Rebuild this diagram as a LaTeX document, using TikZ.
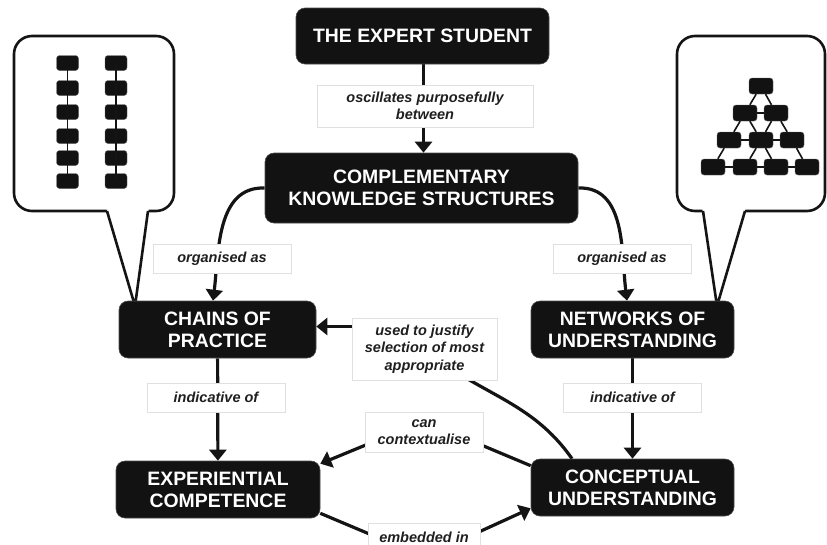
\documentclass[tikz,border=0pt]{standalone}
\usepackage{fontspec}
\setmainfont{Liberation Sans}
\usetikzlibrary{arrows.meta,backgrounds}

\tikzset{
  concept/.style={draw=black!70, line width=0.6pt, fill=black!93, text=white,
    rounded corners=9pt, align=center, inner sep=0pt,
    font=\bfseries\fontsize{19.4}{22}\selectfont},
  linkname/.style={draw=black!12, line width=0.8pt, fill=white, text=black!88,
    align=center, inner sep=0pt,
    font=\bfseries\itshape\fontsize{14.5}{17.5}\selectfont},
  link/.style={line width=3.2pt, draw=black!92},
  arr/.style={link, -{Triangle[width=17pt,length=11pt]}},
  callout/.style={line width=2.6pt, draw=black!92, fill=white},
  chip/.style={draw=black!60, line width=0.4pt, fill=black!93,
    rounded corners=3pt, inner sep=0pt},
  wire/.style={line width=1.6pt, draw=black!92},
}

\begin{document}
\begin{tikzpicture}[x=1pt,y=-1pt]
  \useasboundingbox (0,0) rectangle (827,544);

  % callouts
  \draw[callout, rounded corners=18pt] (14,36) rectangle (174,211);
  \fill[white] (106,207) -- (149,207) -- (135,304) -- cycle;
  \draw[callout, fill=none, line join=round] (107,211) -- (135,306) -- (148,211);

  \draw[callout, rounded corners=18pt] (677,36) rectangle (825,211);
  \fill[white] (702,207) -- (746,207) -- (717,304) -- cycle;
  \draw[callout, fill=none, line join=round] (703,211) -- (717,306) -- (745,211);

  % chains icon
  \foreach \i/\y in {1/63,2/88,3/112,4/136,5/158,6/181} {
    \node[chip, minimum width=22pt, minimum height=15pt] (a\i) at (67.5,\y) {};
    \node[chip, minimum width=22pt, minimum height=15pt] (b\i) at (116,\y) {};
  }
  \draw[wire] (a1.center) -- (a6.center);
  \draw[wire] (b1.center) -- (b6.center);

  % network icon
  \foreach \n/\x/\y in {n1/761/86, n21/745/113, n22/776/113,
      n31/729/140, n32/761/140, n33/792/140,
      n41/713/167, n42/745/167, n43/776/167, n44/807/167}
    \node[chip, minimum width=24pt, minimum height=16pt] (\n) at (\x,\y) {};
  \foreach \a/\b in {n1/n21, n1/n22, n21/n22, n21/n31, n21/n32, n22/n32,
      n22/n33, n31/n32, n32/n33, n31/n41, n32/n42, n32/n43, n33/n44,
      n41/n42, n42/n43, n43/n44}
    \draw[wire] (\a) -- (\b);

  % concepts
  \node[concept, minimum width=253pt, minimum height=56pt] (expert) at (422.5,36) {THE EXPERT STUDENT};
  \node[concept, minimum width=313pt, minimum height=70pt] (comp) at (421.5,188) {COMPLEMENTARY\\KNOWLEDGE STRUCTURES};
  \node[concept, minimum width=197pt, minimum height=57pt] (chains) at (217.5,329.5) {CHAINS OF\\PRACTICE};
  \node[concept, minimum width=203pt, minimum height=57pt] (net) at (632.5,329.5) {NETWORKS OF\\UNDERSTANDING};
  \node[concept, minimum width=204pt, minimum height=57pt] (exp) at (218,489.5) {EXPERIENTIAL\\COMPETENCE};
  \node[concept, minimum width=203pt, minimum height=57pt] (conc) at (632.5,487.5) {CONCEPTUAL\\UNDERSTANDING};

  % linking phrases
  \node[linkname, minimum width=216pt, minimum height=42pt] (osc) at (425,106) {oscillates purposefully\\between};
  \node[linkname, minimum width=138pt, minimum height=29pt] (orgl) at (222,258.5) {organised as};
  \node[linkname, minimum width=138pt, minimum height=29pt] (orgr) at (622,258.5) {organised as};
  \node[linkname, minimum width=138pt, minimum height=29pt] (indl) at (216,397.5) {indicative of};
  \node[linkname, minimum width=138pt, minimum height=29pt] (indr) at (632.5,397.5) {indicative of};
  \node[linkname, minimum width=145pt, minimum height=62pt] (just) at (424.5,349) {used to justify\\selection of most\\appropriate};
  \node[linkname, minimum width=118pt, minimum height=40pt] (ctx) at (424,432) {can\\contextualise};
  \node[linkname, minimum width=112pt, minimum height=28pt] (emb) at (424,537) {embedded in};

  \begin{scope}[on background layer]
    \draw[arr] ([xshift=1pt]expert.south) -- ([xshift=2pt]comp.north);
    \draw[arr] (comp.west) to[out=178,in=83] ([xshift=-4.5pt]chains.north);
    \draw[arr] (comp.east) to[out=2,in=97] ([xshift=-5.5pt]net.north);
    \draw[arr] (chains) -- (exp);
    \draw[arr] (net) -- (conc);
    \draw[link] ([xshift=-60.5pt]conc.north) to[out=125,in=-40] (just.center);
    \draw[arr] (just.west |- chains.east) ++(0,-3) -- ([yshift=3pt]chains.east);
    \draw[arr] ([yshift=-7pt]conc.north west) -- ([yshift=11pt]ctx.center) -- ([yshift=-3pt]exp.north east);
    \draw[arr] ([yshift=5pt]exp.south east) -- ([yshift=-20pt]emb.center) -- ([yshift=8pt]conc.south west);
  \end{scope}
\end{tikzpicture}
\end{document}
